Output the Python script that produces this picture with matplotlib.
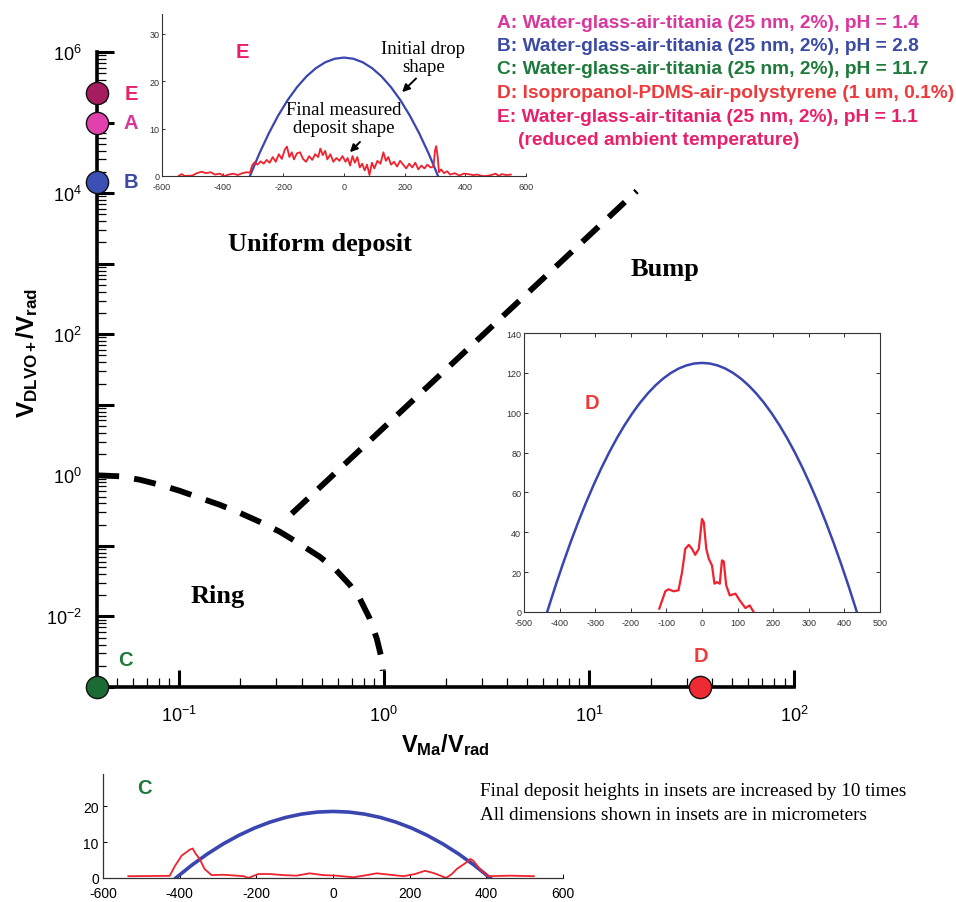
import matplotlib
matplotlib.use('Agg')
import matplotlib.pyplot as plt
import matplotlib.ticker as mticker
import numpy as np

plt.rcParams['font.family'] = ['Liberation Sans', 'DejaVu Sans']
plt.rcParams['mathtext.fontset'] = 'custom'
plt.rcParams['mathtext.rm'] = 'Liberation Sans'
plt.rcParams['mathtext.it'] = 'Liberation Sans:italic'
plt.rcParams['mathtext.bf'] = 'Liberation Sans:bold'
plt.rcParams['axes.unicode_minus'] = False

# ---------------- data ----------------
# main regime map: points (V_Ma/V_rad, V_DLVO+/V_rad)
pt_names = ['E', 'A', 'B', 'C', 'D']
pt_x = [0.04, 0.04, 0.04, 0.04, 35.0]
pt_y = [2.6e5, 1.0e5, 1.45e4, 1.0e-3, 1.0e-3]
pt_colors = ['#a51d5e', '#e041ad', '#3c4fb3', '#1b6b35', '#ee2a33']
lbl_colors = ['#e8206b', '#d9369e', '#3b4aa3', '#1d7a3a', '#ee3a3a']

# ring / uniform boundary (dashed curve)
ring_x = [0.040, 0.0515, 0.0646, 0.0807, 0.101, 0.126, 0.158, 0.198, 0.248,
          0.311, 0.389, 0.487, 0.577, 0.682, 0.764, 0.855, 0.925, 0.966, 0.989]
ring_y = [1.00, 0.97, 0.867, 0.736, 0.605, 0.482, 0.384, 0.295, 0.220,
          0.159, 0.107, 0.0703, 0.0475, 0.0282, 0.0179, 0.0093, 0.00483, 0.00288, 0.0017]
# uniform / bump boundary (dashed straight line)
bump_x = [0.356, 17.1]
bump_y = [0.286, 1.07e4]

x_ticks = [0.1, 1, 10, 100]

legend_lines = [
    ('A: Water-glass-air-titania (25 nm, 2%), pH = 1.4', '#d9369e'),
    ('B: Water-glass-air-titania (25 nm, 2%), pH = 2.8', '#3b4aa3'),
    ('C: Water-glass-air-titania (25 nm, 2%), pH = 11.7', '#1d7a3a'),
    ('D: Isopropanol-PDMS-air-polystyrene (1 um, 0.1%)', '#ee3a3a'),
    ('E: Water-glass-air-titania (25 nm, 2%), pH = 1.1', '#e8206b'),
    ('(reduced ambient temperature)', '#e8206b'),
]

# inset E (micrometers)
E_drop_x = [-310, -279, -248, -217, -186, -155, -124, -93, -62, -31, 0,
            31, 62, 93, 124, 155, 186, 217, 248, 279, 310]
E_drop_y = [0, 4.75, 9, 12.75, 16, 18.75, 21, 22.75, 24, 24.75, 25,
            24.75, 24, 22.75, 21, 18.75, 16, 12.75, 9, 4.75, 0]
E_dep_x = [-545, -535, -525, -500, -485, -470, -455, -440, -425, -410, -395, -380,
           -365, -350, -335, -320, -310, -303, -295, -285, -275, -265, -255, -245,
           -235, -225, -215, -205, -195, -188, -180, -172, -165, -155, -145, -135,
           -125, -115, -105, -95, -85, -78, -70, -62, -55, -45, -35, -25, -15, -5,
           5, 12, 20, 28, 36, 44, 52, 60, 68, 76, 84, 92, 100, 110, 120, 130, 138,
           146, 155, 165, 175, 185, 195, 205, 215, 225, 235, 245, 255, 265, 275,
           285, 295, 300, 304, 309, 313, 320, 330, 340, 350, 365, 380, 395, 410,
           425, 440, 455, 470, 485, 500, 510, 520, 535, 550]
E_dep_y = [0.0, 0.4, 0.0, 0.1, 0.6, 0.9, 0.6, 0.8, 0.3, 0.5, 0.0, 0.3,
           0.5, 0.2, 0.6, 0.8, 0.7, 2.2, 2.9, 2.4, 3.1, 2.6, 3.4, 2.8,
           4.0, 3.0, 4.6, 3.6, 5.6, 6.2, 4.0, 5.0, 3.5, 4.8, 5.0, 3.6,
           3.0, 4.2, 3.4, 4.6, 4.0, 5.8, 4.4, 5.3, 3.5, 4.6, 3.0, 3.8, 3.2, 4.2,
           3.0, 3.8, 2.2, 4.2, 2.8, 4.0, 1.8, 2.6, 1.2, 2.4, 0.2, 2.8, 1.6, 3.2, 2.6, 5.0, 3.2,
           4.0, 2.4, 3.0, 2.0, 3.2, 2.4, 1.6, 2.6, 1.8, 2.8, 1.4, 2.2, 1.6, 2.4,
           1.8, 2.0, 5.4, 6.3, 4.0, 0.8, 1.4, 0.6, 1.0, 0.3, 0.6, 0.1, 0.5, 0.4,
           0.2, 0.3, 0.0, 0.0, 0.2, 0.5, 0.0, 0.4, 0.2, 0.3]

# inset D
D_drop_x = [-435, -413.25, -391.5, -369.75, -348, -326.25, -304.5, -282.75, -261, -239.25,
            -217.5, -195.75, -174, -152.25, -130.5, -108.75, -87, -65.25, -43.5, -21.75, 0,
            21.75, 43.5, 65.25, 87, 108.75, 130.5, 152.25, 174, 195.75, 217.5,
            239.25, 261, 282.75, 304.5, 326.25, 348, 369.75, 391.5, 413.25, 435]
D_drop_y = [0, 12.19, 23.75, 34.69, 45, 54.69, 63.75, 72.19, 80, 87.19,
            93.75, 99.69, 105, 109.69, 113.75, 117.19, 120, 122.19, 123.75, 124.69, 125,
            124.69, 123.75, 122.19, 120, 117.19, 113.75, 109.69, 105, 99.69, 93.75,
            87.19, 80, 72.19, 63.75, 54.69, 45, 34.69, 23.75, 12.19, 0]
D_dep_x = [-120, -103, -94, -80, -66, -56, -47, -37, -28, -19, -9, 0, 5, 12, 19, 28,
           35, 42, 50, 56, 61, 68, 78, 94, 106, 122, 134, 145]
D_dep_y = [1.7, 10.4, 11.4, 10.4, 10.9, 20.0, 31.7, 33.7, 31.7, 28.7, 31.7, 46.7, 45.0,
           31.7, 26.7, 23.4, 14.2, 15.0, 14.2, 25.9, 25.4, 13.4, 8.3, 9.2, 5.8, 2.0, 3.3, 0.0]

# inset C
C_drop_x = [-410, -369, -328, -287, -246, -205, -164, -123, -82, -41, 0,
            41, 82, 123, 164, 205, 246, 287, 328, 369, 410]
C_drop_y = [0, 3.52, 6.66, 9.44, 11.84, 13.88, 15.54, 16.84, 17.76, 18.32, 18.5,
            18.32, 17.76, 16.84, 15.54, 13.88, 11.84, 9.44, 6.66, 3.52, 0]
C_dep_x = [-534, -426, -412, -395, -373, -366, -358, -348, -335, -317, -286, -251,
           -233, -221, -195, -164, -130, -95, -61, -25, 9, 53, 80, 114, 149, 184,
           214, 240, 262, 284, 295, 310, 323, 349, 358, 366, 383, 405, 463, 524]
C_dep_y = [0.5, 0.6, 3.4, 6.2, 7.9, 8.2, 6.7, 5.3, 2.5, 0.8, 0.9, 0.65,
           0.5, 0.0, 1.1, 1.1, 0.8, 0.65, 1.3, 0.8, 0.65, 0.2, 0.65, 1.3, 0.9, 0.5,
           1.1, 2.0, 1.4, 0.5, 0.0, 1.1, 2.5, 4.4, 5.3, 4.8, 2.5, 0.5, 0.65, 0.5]

DROP_BLUE = '#3a46b0'
DEP_RED = '#f0222e'

# ---------------- figure ----------------
W, H = 956, 903
fig = plt.figure(figsize=(W / 100, H / 100), dpi=100)


def fx(x):
    return x / W


def fy(y):
    return 1 - y / H


ax = fig.add_axes([fx(97), fy(688), fx(794) - fx(97), fy(53) - fy(688)])
ax.patch.set_alpha(0)
ax.set_xscale('log')
ax.set_yscale('log')
ax.set_xlim(0.04, 100)
ax.set_ylim(1e-3, 1e6)
for s in ['top', 'right']:
    ax.spines[s].set_visible(False)
for s in ['left', 'bottom']:
    ax.spines[s].set_linewidth(2.6)

ax.xaxis.set_major_locator(mticker.FixedLocator(x_ticks))
ax.xaxis.set_minor_locator(mticker.LogLocator(base=10, subs=np.arange(2, 10), numticks=30))
ax.yaxis.set_major_locator(mticker.LogLocator(base=10, numticks=30))
ax.yaxis.set_minor_locator(mticker.LogLocator(base=10, subs=np.arange(2, 10), numticks=30))
ax.xaxis.set_major_formatter(mticker.FuncFormatter(
    lambda v, p: r'$10^{%d}$' % int(round(np.log10(v)))))


def yfmt(v, p):
    e = int(round(np.log10(v)))
    return r'$10^{%d}$' % e if (e % 2 == 0 and e > -3) else ''


ax.yaxis.set_major_formatter(mticker.FuncFormatter(yfmt))
ax.yaxis.set_minor_formatter(mticker.NullFormatter())
ax.xaxis.set_minor_formatter(mticker.NullFormatter())
ax.tick_params(which='major', direction='in', length=12.5, width=2.2, labelsize=13)
ax.tick_params(which='minor', direction='in', length=6.5, width=0.9)
ax.tick_params(axis='x', which='major', pad=13)
ax.tick_params(axis='y', which='major', pad=11)

ax.plot(ring_x, ring_y, color='k', lw=4.2, dashes=(3.8, 2.6), dash_capstyle='butt', zorder=3)
ax.plot(bump_x, bump_y, color='k', lw=4.2, dashes=(3.8, 2.4), dash_capstyle='butt', zorder=3)

label_offsets = {'E': (34, 0), 'A': (34, 0), 'B': (34, 0), 'C': (28, 27), 'D': (0, 31)}
for n, x, y, c, lc in zip(pt_names, pt_x, pt_y, pt_colors, lbl_colors):
    ax.plot([x], [y], 'o', ms=16, mfc=c, mec='#111111', mew=1.0, clip_on=False, zorder=6)
    ax.annotate(n, xy=(x, y), xytext=label_offsets[n], textcoords='offset pixels',
                ha='center', va='center', color=lc, fontsize=14.5, fontweight='bold',
                annotation_clip=False)

ax.text(0.5, -0.09, r'$\mathbf{V_{Ma}/V_{rad}}$', transform=ax.transAxes,
        ha='center', va='center', fontsize=17)
fig.text(fx(27), fy(353), r'$\mathbf{V_{DLVO+}/V_{rad}}$', rotation=90,
         ha='center', va='center', fontsize=17.5)

serif = ['Liberation Serif', 'DejaVu Serif']
fig.text(fx(320), fy(245), 'Uniform deposit', family=serif, weight='bold', size=19,
         ha='center', va='center')
fig.text(fx(665), fy(270), 'Bump', family=serif, weight='bold', size=19,
         ha='center', va='center')
fig.text(fx(218), fy(596), 'Ring', family=serif, weight='bold', size=19,
         ha='center', va='center')

# legend text
for i, (t, c) in enumerate(legend_lines):
    xoff = 497 if i < 5 else 518
    fig.text(fx(xoff), fy(23 + i * 23.5), t, color=c, fontsize=13.8, fontweight='bold',
             ha='left', va='center')

# ---------------- inset E ----------------
axE = fig.add_axes([fx(162), fy(177), fx(526) - fx(162), fy(15) - fy(177)])
axE.patch.set_alpha(0)
axE.plot(E_drop_x, E_drop_y, color=DROP_BLUE, lw=1.6)
axE.plot(E_dep_x, E_dep_y, color=DEP_RED, lw=1.3)
axE.set_xlim(-600, 600)
axE.set_ylim(0, 34.2)
axE.set_xticks(range(-600, 601, 200))
axE.set_yticks([0, 10, 20, 30])
for s in ['top', 'right']:
    axE.spines[s].set_visible(False)
for s in ['left', 'bottom']:
    axE.spines[s].set_linewidth(0.8)
    axE.spines[s].set_color('#333333')
axE.tick_params(direction='in', length=2.5, width=0.7, labelsize=6.5, pad=2,
                colors='#333333')
axE.tick_params(axis='x', pad=4)
axE.text(0.22, 0.77, 'E', transform=axE.transAxes, color='#e8206b', fontsize=14.5,
         fontweight='bold', ha='center', va='center')
axE.text(262, 25.0, 'Initial drop\nshape', family=serif, fontsize=13.5,
         ha='center', va='center', linespacing=1.05)
axE.text(0, 12.2, 'Final measured\ndeposit shape', family=serif, fontsize=13.5,
         ha='center', va='center', linespacing=1.05)
axE.annotate('', xy=(185, 17.3), xytext=(244, 21.0),
             arrowprops=dict(arrowstyle='-|>', color='k', lw=1.4, mutation_scale=11))
axE.annotate('', xy=(13, 4.6), xytext=(59, 7.6),
             arrowprops=dict(arrowstyle='-|>', color='k', lw=1.4, mutation_scale=11))

# ---------------- inset D ----------------
axD = fig.add_axes([fx(524), fy(613), fx(880) - fx(524), fy(334) - fy(613)])
axD.set_facecolor('white')
axD.plot(D_drop_x, D_drop_y, color=DROP_BLUE, lw=1.8)
axD.plot(D_dep_x, D_dep_y, color=DEP_RED, lw=1.6)
axD.set_xlim(-500, 500)
axD.set_ylim(0, 140)
axD.set_xticks(range(-500, 501, 100))
axD.set_yticks(range(0, 141, 20))
for s in axD.spines.values():
    s.set_linewidth(0.8)
    s.set_color('#333333')
axD.tick_params(direction='in', length=3, width=0.7, labelsize=6.5, pad=2,
                top=True, right=True, colors='#333333')
axD.tick_params(axis='x', pad=4)
axD.text(0.19, 0.75, 'D', transform=axD.transAxes, color='#ee3a3a', fontsize=14.5,
         fontweight='bold', ha='center', va='center')

# ---------------- inset C ----------------
axC = fig.add_axes([fx(103), fy(879), fx(563) - fx(103), fy(775) - fy(879)])
axC.patch.set_alpha(0)
axC.plot(C_drop_x, C_drop_y, color=DROP_BLUE, lw=2.6)
axC.plot(C_dep_x, C_dep_y, color=DEP_RED, lw=1.3)
axC.set_xlim(-600, 600)
axC.set_ylim(0, 28.9)
axC.set_xticks(range(-600, 601, 200))
axC.set_yticks([0, 10, 20])
for s in ['top', 'right']:
    axC.spines[s].set_visible(False)
for s in ['left', 'bottom']:
    axC.spines[s].set_linewidth(0.9)
    axC.spines[s].set_color('#333333')
axC.tick_params(direction='in', length=3, width=0.7, labelsize=10, pad=3)
axC.tick_params(axis='x', pad=6)
axC.text(0.09, 0.87, 'C', transform=axC.transAxes, color='#1d7a3a', fontsize=14.5,
         fontweight='bold', ha='center', va='center')

fig.text(fx(480), fy(792), 'Final deposit heights in insets are increased by 10 times',
         family=serif, fontsize=13.8, ha='left', va='center')
fig.text(fx(480), fy(816), 'All dimensions shown in insets are in micrometers',
         family=serif, fontsize=13.8, ha='left', va='center')

fig.savefig('out.png', dpi=100)
